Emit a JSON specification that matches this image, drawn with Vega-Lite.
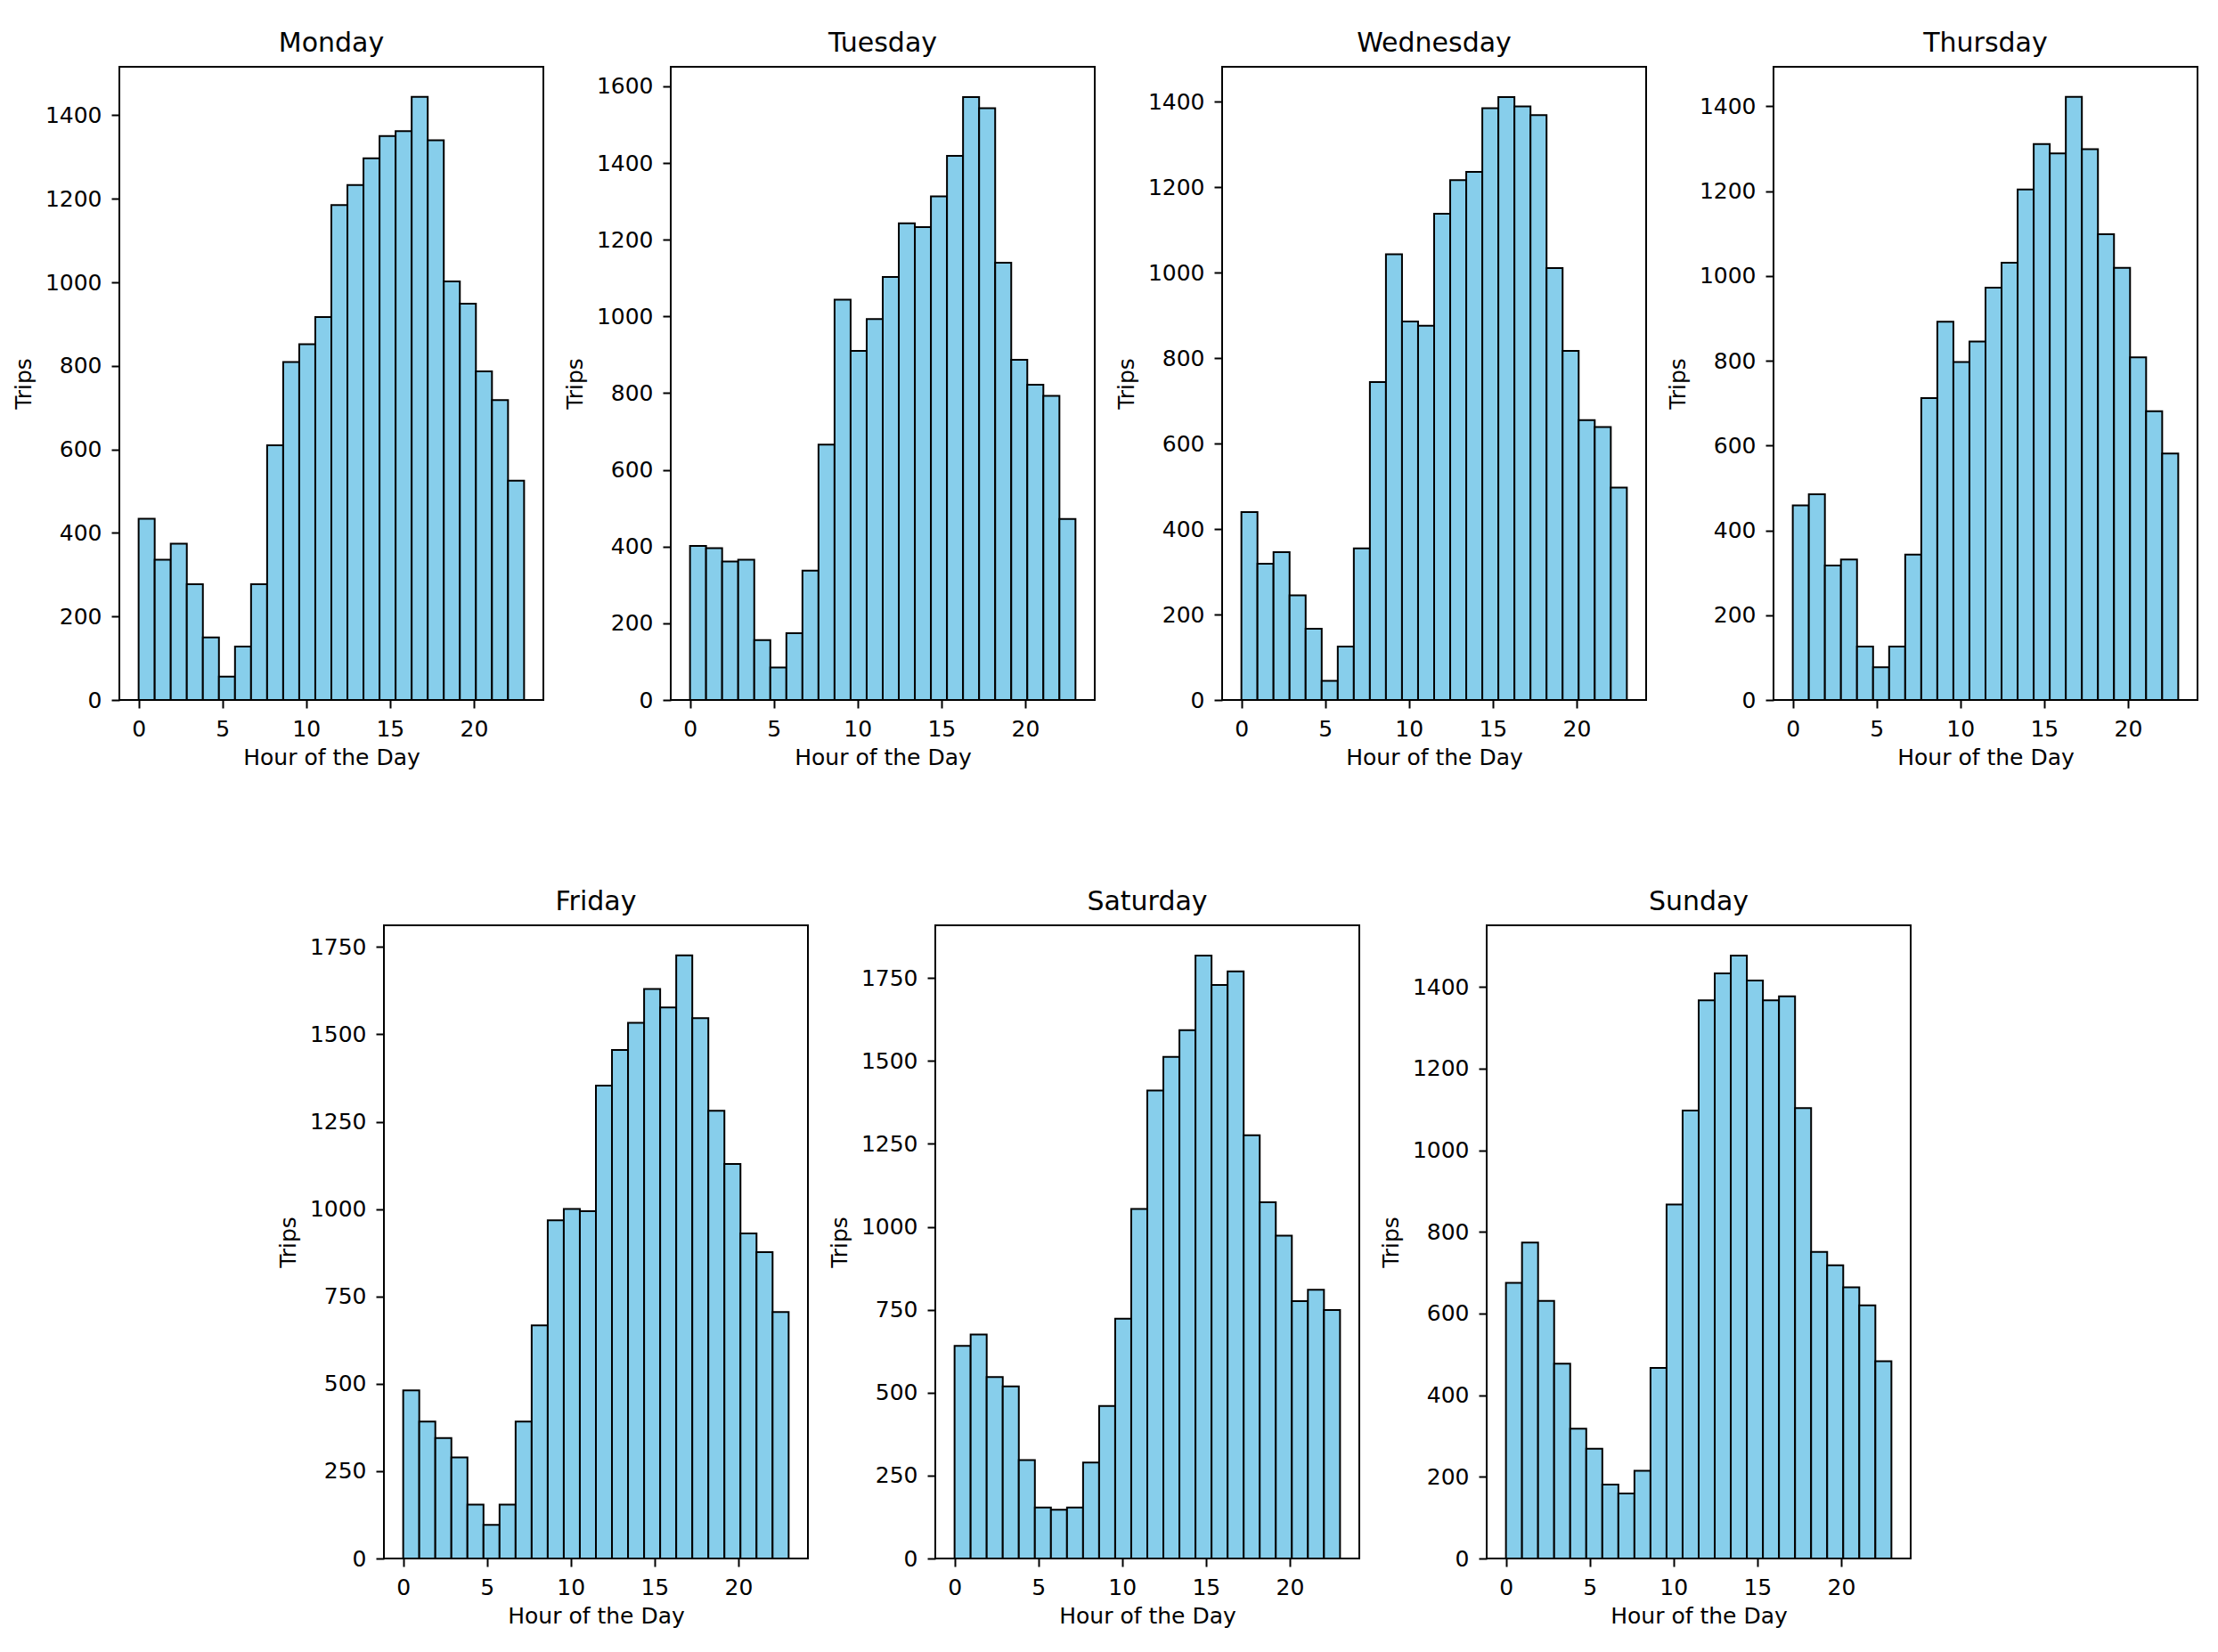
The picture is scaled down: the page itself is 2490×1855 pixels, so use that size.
{
  "$schema": "https://vega.github.io/schema/vega-lite/v6.json",
  "padding": {"left": 13, "top": 33, "right": 10, "bottom": 10},
  "background": "white",
  "config": {
    "font": "DejaVu Sans",
    "view": {"stroke": "#000000", "strokeWidth": 2},
    "axis": {
      "domain": false, "grid": false,
      "labelFont": "DejaVu Sans", "labelFontSize": 25, "labelColor": "#000000",
      "titleFont": "DejaVu Sans", "titleFontSize": 25, "titleFontWeight": "normal", "titleColor": "#000000",
      "tickColor": "#000000", "tickSize": 9, "tickWidth": 2, "labelFlush": false, "labelOverlap": false, "format": "d"
    },
    "axisX": {"labelPadding": 11, "titlePadding": 7},
    "axisY": {"labelPadding": 11, "titlePadding": 11},
    "title": {"font": "DejaVu Sans", "fontSize": 30, "fontWeight": "normal", "color": "#000000", "baseline": "alphabetic", "offset": 11},
    "bar": {"fill": "#87CEEB", "stroke": "#000000", "strokeWidth": 2}
  },
  "datasets": {
    "Monday": [
      {"h0":0,"h1":0.9583,"trips":434},{"h0":0.9583,"h1":1.9167,"trips":336},{"h0":1.9167,"h1":2.875,"trips":374},{"h0":2.875,"h1":3.8333,"trips":277},
      {"h0":3.8333,"h1":4.7917,"trips":150},{"h0":4.7917,"h1":5.75,"trips":56},{"h0":5.75,"h1":6.7083,"trips":128},{"h0":6.7083,"h1":7.6667,"trips":277},
      {"h0":7.6667,"h1":8.625,"trips":610},{"h0":8.625,"h1":9.5833,"trips":809},{"h0":9.5833,"h1":10.5417,"trips":852},{"h0":10.5417,"h1":11.5,"trips":917},
      {"h0":11.5,"h1":12.4583,"trips":1185},{"h0":12.4583,"h1":13.4167,"trips":1233},{"h0":13.4167,"h1":14.375,"trips":1297},{"h0":14.375,"h1":15.3333,"trips":1350},
      {"h0":15.3333,"h1":16.2917,"trips":1362},{"h0":16.2917,"h1":17.25,"trips":1444},{"h0":17.25,"h1":18.2083,"trips":1340},{"h0":18.2083,"h1":19.1667,"trips":1002},
      {"h0":19.1667,"h1":20.125,"trips":949},{"h0":20.125,"h1":21.0833,"trips":787},{"h0":21.0833,"h1":22.0417,"trips":718},{"h0":22.0417,"h1":23,"trips":525}
    ],
    "Tuesday": [
      {"h0":0,"h1":0.9583,"trips":402},{"h0":0.9583,"h1":1.9167,"trips":396},{"h0":1.9167,"h1":2.875,"trips":361},{"h0":2.875,"h1":3.8333,"trips":366},
      {"h0":3.8333,"h1":4.7917,"trips":156},{"h0":4.7917,"h1":5.75,"trips":85},{"h0":5.75,"h1":6.7083,"trips":174},{"h0":6.7083,"h1":7.6667,"trips":337},
      {"h0":7.6667,"h1":8.625,"trips":666},{"h0":8.625,"h1":9.5833,"trips":1044},{"h0":9.5833,"h1":10.5417,"trips":910},{"h0":10.5417,"h1":11.5,"trips":993},
      {"h0":11.5,"h1":12.4583,"trips":1103},{"h0":12.4583,"h1":13.4167,"trips":1243},{"h0":13.4167,"h1":14.375,"trips":1233},{"h0":14.375,"h1":15.3333,"trips":1313},
      {"h0":15.3333,"h1":16.2917,"trips":1419},{"h0":16.2917,"h1":17.25,"trips":1572},{"h0":17.25,"h1":18.2083,"trips":1543},{"h0":18.2083,"h1":19.1667,"trips":1140},
      {"h0":19.1667,"h1":20.125,"trips":887},{"h0":20.125,"h1":21.0833,"trips":822},{"h0":21.0833,"h1":22.0417,"trips":793},{"h0":22.0417,"h1":23,"trips":472}
    ],
    "Wednesday": [
      {"h0":0,"h1":0.9583,"trips":440},{"h0":0.9583,"h1":1.9167,"trips":319},{"h0":1.9167,"h1":2.875,"trips":346},{"h0":2.875,"h1":3.8333,"trips":245},
      {"h0":3.8333,"h1":4.7917,"trips":167},{"h0":4.7917,"h1":5.75,"trips":45},{"h0":5.75,"h1":6.7083,"trips":125},{"h0":6.7083,"h1":7.6667,"trips":355},
      {"h0":7.6667,"h1":8.625,"trips":744},{"h0":8.625,"h1":9.5833,"trips":1043},{"h0":9.5833,"h1":10.5417,"trips":886},{"h0":10.5417,"h1":11.5,"trips":876},
      {"h0":11.5,"h1":12.4583,"trips":1138},{"h0":12.4583,"h1":13.4167,"trips":1217},{"h0":13.4167,"h1":14.375,"trips":1236},{"h0":14.375,"h1":15.3333,"trips":1385},
      {"h0":15.3333,"h1":16.2917,"trips":1411},{"h0":16.2917,"h1":17.25,"trips":1389},{"h0":17.25,"h1":18.2083,"trips":1369},{"h0":18.2083,"h1":19.1667,"trips":1011},
      {"h0":19.1667,"h1":20.125,"trips":817},{"h0":20.125,"h1":21.0833,"trips":655},{"h0":21.0833,"h1":22.0417,"trips":639},{"h0":22.0417,"h1":23,"trips":497}
    ],
    "Thursday": [
      {"h0":0,"h1":0.9583,"trips":459},{"h0":0.9583,"h1":1.9167,"trips":485},{"h0":1.9167,"h1":2.875,"trips":317},{"h0":2.875,"h1":3.8333,"trips":331},
      {"h0":3.8333,"h1":4.7917,"trips":126},{"h0":4.7917,"h1":5.75,"trips":77},{"h0":5.75,"h1":6.7083,"trips":126},{"h0":6.7083,"h1":7.6667,"trips":343},
      {"h0":7.6667,"h1":8.625,"trips":712},{"h0":8.625,"h1":9.5833,"trips":892},{"h0":9.5833,"h1":10.5417,"trips":797},{"h0":10.5417,"h1":11.5,"trips":845},
      {"h0":11.5,"h1":12.4583,"trips":972},{"h0":12.4583,"h1":13.4167,"trips":1031},{"h0":13.4167,"h1":14.375,"trips":1204},{"h0":14.375,"h1":15.3333,"trips":1311},
      {"h0":15.3333,"h1":16.2917,"trips":1289},{"h0":16.2917,"h1":17.25,"trips":1422},{"h0":17.25,"h1":18.2083,"trips":1299},{"h0":18.2083,"h1":19.1667,"trips":1098},
      {"h0":19.1667,"h1":20.125,"trips":1019},{"h0":20.125,"h1":21.0833,"trips":808},{"h0":21.0833,"h1":22.0417,"trips":681},{"h0":22.0417,"h1":23,"trips":581}
    ],
    "Friday": [
      {"h0":0,"h1":0.9583,"trips":481},{"h0":0.9583,"h1":1.9167,"trips":392},{"h0":1.9167,"h1":2.875,"trips":345},{"h0":2.875,"h1":3.8333,"trips":289},
      {"h0":3.8333,"h1":4.7917,"trips":154},{"h0":4.7917,"h1":5.75,"trips":96},{"h0":5.75,"h1":6.7083,"trips":154},{"h0":6.7083,"h1":7.6667,"trips":392},
      {"h0":7.6667,"h1":8.625,"trips":667},{"h0":8.625,"h1":9.5833,"trips":968},{"h0":9.5833,"h1":10.5417,"trips":1000},{"h0":10.5417,"h1":11.5,"trips":994},
      {"h0":11.5,"h1":12.4583,"trips":1353},{"h0":12.4583,"h1":13.4167,"trips":1455},{"h0":13.4167,"h1":14.375,"trips":1533},{"h0":14.375,"h1":15.3333,"trips":1630},
      {"h0":15.3333,"h1":16.2917,"trips":1577},{"h0":16.2917,"h1":17.25,"trips":1726},{"h0":17.25,"h1":18.2083,"trips":1546},{"h0":18.2083,"h1":19.1667,"trips":1281},
      {"h0":19.1667,"h1":20.125,"trips":1129},{"h0":20.125,"h1":21.0833,"trips":930},{"h0":21.0833,"h1":22.0417,"trips":877},{"h0":22.0417,"h1":23,"trips":705}
    ],
    "Saturday": [
      {"h0":0,"h1":0.9583,"trips":641},{"h0":0.9583,"h1":1.9167,"trips":675},{"h0":1.9167,"h1":2.875,"trips":547},{"h0":2.875,"h1":3.8333,"trips":519},
      {"h0":3.8333,"h1":4.7917,"trips":297},{"h0":4.7917,"h1":5.75,"trips":154},{"h0":5.75,"h1":6.7083,"trips":147},{"h0":6.7083,"h1":7.6667,"trips":154},
      {"h0":7.6667,"h1":8.625,"trips":289},{"h0":8.625,"h1":9.5833,"trips":460},{"h0":9.5833,"h1":10.5417,"trips":723},{"h0":10.5417,"h1":11.5,"trips":1054},
      {"h0":11.5,"h1":12.4583,"trips":1411},{"h0":12.4583,"h1":13.4167,"trips":1512},{"h0":13.4167,"h1":14.375,"trips":1593},{"h0":14.375,"h1":15.3333,"trips":1818},
      {"h0":15.3333,"h1":16.2917,"trips":1729},{"h0":16.2917,"h1":17.25,"trips":1770},{"h0":17.25,"h1":18.2083,"trips":1276},{"h0":18.2083,"h1":19.1667,"trips":1074},
      {"h0":19.1667,"h1":20.125,"trips":973},{"h0":20.125,"h1":21.0833,"trips":776},{"h0":21.0833,"h1":22.0417,"trips":810},{"h0":22.0417,"h1":23,"trips":749}
    ],
    "Sunday": [
      {"h0":0,"h1":0.9583,"trips":675},{"h0":0.9583,"h1":1.9167,"trips":774},{"h0":1.9167,"h1":2.875,"trips":631},{"h0":2.875,"h1":3.8333,"trips":477},
      {"h0":3.8333,"h1":4.7917,"trips":318},{"h0":4.7917,"h1":5.75,"trips":269},{"h0":5.75,"h1":6.7083,"trips":181},{"h0":6.7083,"h1":7.6667,"trips":159},
      {"h0":7.6667,"h1":8.625,"trips":215},{"h0":8.625,"h1":9.5833,"trips":467},{"h0":9.5833,"h1":10.5417,"trips":867},{"h0":10.5417,"h1":11.5,"trips":1097},
      {"h0":11.5,"h1":12.4583,"trips":1367},{"h0":12.4583,"h1":13.4167,"trips":1433},{"h0":13.4167,"h1":14.375,"trips":1477},{"h0":14.375,"h1":15.3333,"trips":1416},
      {"h0":15.3333,"h1":16.2917,"trips":1367},{"h0":16.2917,"h1":17.25,"trips":1377},{"h0":17.25,"h1":18.2083,"trips":1103},{"h0":18.2083,"h1":19.1667,"trips":751},
      {"h0":19.1667,"h1":20.125,"trips":718},{"h0":20.125,"h1":21.0833,"trips":664},{"h0":21.0833,"h1":22.0417,"trips":620},{"h0":22.0417,"h1":23,"trips":483}
    ]
  },
  "spacing": 133,
  "vconcat": [
    {
      "bounds": "flush",
      "spacing": 143,
      "hconcat": [
        {
          "title": "Monday", "width": 476, "height": 711,
          "data": {"name": "Monday"},
          "mark": {"type": "bar"},
          "encoding": {
            "x": {"field": "h0", "type": "quantitative", "scale": {"domain": [-1.15, 24.15], "nice": false, "zero": false}, "axis": {"values": [0, 5, 10, 15, 20], "title": "Hour of the Day"}},
            "x2": {"field": "h1"},
            "y": {"field": "trips", "type": "quantitative", "scale": {"domain": [0, 1516], "nice": false}, "axis": {"values": [0, 200, 400, 600, 800, 1000, 1200, 1400], "title": "Trips"}},
            "y2": {"datum": 0}
          }
        },
        {
          "title": "Tuesday", "width": 476, "height": 711,
          "data": {"name": "Tuesday"},
          "mark": {"type": "bar"},
          "encoding": {
            "x": {"field": "h0", "type": "quantitative", "scale": {"domain": [-1.15, 24.15], "nice": false, "zero": false}, "axis": {"values": [0, 5, 10, 15, 20], "title": "Hour of the Day"}},
            "x2": {"field": "h1"},
            "y": {"field": "trips", "type": "quantitative", "scale": {"domain": [0, 1651], "nice": false}, "axis": {"values": [0, 200, 400, 600, 800, 1000, 1200, 1400, 1600], "title": "Trips"}},
            "y2": {"datum": 0}
          }
        },
        {
          "title": "Wednesday", "width": 476, "height": 711,
          "data": {"name": "Wednesday"},
          "mark": {"type": "bar"},
          "encoding": {
            "x": {"field": "h0", "type": "quantitative", "scale": {"domain": [-1.15, 24.15], "nice": false, "zero": false}, "axis": {"values": [0, 5, 10, 15, 20], "title": "Hour of the Day"}},
            "x2": {"field": "h1"},
            "y": {"field": "trips", "type": "quantitative", "scale": {"domain": [0, 1482], "nice": false}, "axis": {"values": [0, 200, 400, 600, 800, 1000, 1200, 1400], "title": "Trips"}},
            "y2": {"datum": 0}
          }
        },
        {
          "title": "Thursday", "width": 476, "height": 711,
          "data": {"name": "Thursday"},
          "mark": {"type": "bar"},
          "encoding": {
            "x": {"field": "h0", "type": "quantitative", "scale": {"domain": [-1.15, 24.15], "nice": false, "zero": false}, "axis": {"values": [0, 5, 10, 15, 20], "title": "Hour of the Day"}},
            "x2": {"field": "h1"},
            "y": {"field": "trips", "type": "quantitative", "scale": {"domain": [0, 1493], "nice": false}, "axis": {"values": [0, 200, 400, 600, 800, 1000, 1200, 1400], "title": "Trips"}},
            "y2": {"datum": 0}
          }
        }
      ]
    },
    {
      "bounds": "flush",
      "spacing": 143,
      "hconcat": [
        {
          "width": 154, "height": 711,
          "view": {"stroke": null},
          "data": {"values": []},
          "mark": {"type": "point", "opacity": 0},
          "encoding": {}
        },
        {
          "title": "Friday", "width": 476, "height": 711,
          "data": {"name": "Friday"},
          "mark": {"type": "bar"},
          "encoding": {
            "x": {"field": "h0", "type": "quantitative", "scale": {"domain": [-1.15, 24.15], "nice": false, "zero": false}, "axis": {"values": [0, 5, 10, 15, 20], "title": "Hour of the Day"}},
            "x2": {"field": "h1"},
            "y": {"field": "trips", "type": "quantitative", "scale": {"domain": [0, 1812], "nice": false}, "axis": {"values": [0, 250, 500, 750, 1000, 1250, 1500, 1750], "title": "Trips"}},
            "y2": {"datum": 0}
          }
        },
        {
          "title": "Saturday", "width": 476, "height": 711,
          "data": {"name": "Saturday"},
          "mark": {"type": "bar"},
          "encoding": {
            "x": {"field": "h0", "type": "quantitative", "scale": {"domain": [-1.15, 24.15], "nice": false, "zero": false}, "axis": {"values": [0, 5, 10, 15, 20], "title": "Hour of the Day"}},
            "x2": {"field": "h1"},
            "y": {"field": "trips", "type": "quantitative", "scale": {"domain": [0, 1909], "nice": false}, "axis": {"values": [0, 250, 500, 750, 1000, 1250, 1500, 1750], "title": "Trips"}},
            "y2": {"datum": 0}
          }
        },
        {
          "title": "Sunday", "width": 476, "height": 711,
          "data": {"name": "Sunday"},
          "mark": {"type": "bar"},
          "encoding": {
            "x": {"field": "h0", "type": "quantitative", "scale": {"domain": [-1.15, 24.15], "nice": false, "zero": false}, "axis": {"values": [0, 5, 10, 15, 20], "title": "Hour of the Day"}},
            "x2": {"field": "h1"},
            "y": {"field": "trips", "type": "quantitative", "scale": {"domain": [0, 1551], "nice": false}, "axis": {"values": [0, 200, 400, 600, 800, 1000, 1200, 1400], "title": "Trips"}},
            "y2": {"datum": 0}
          }
        }
      ]
    }
  ]
}
